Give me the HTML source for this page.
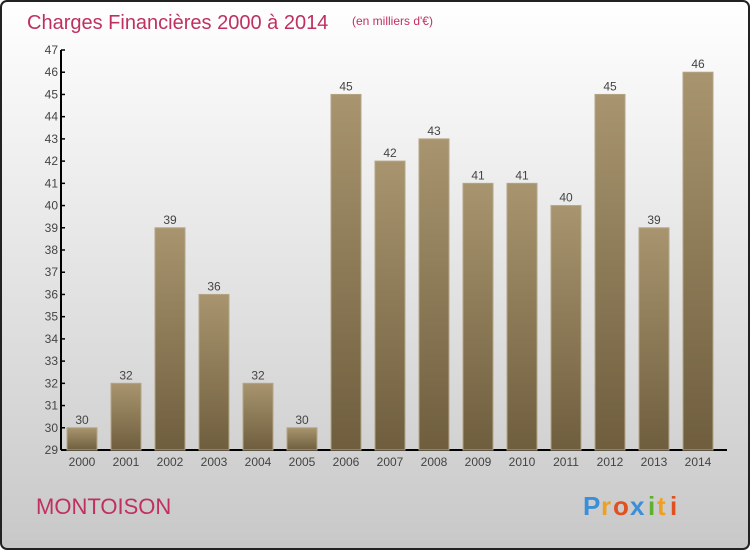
<!DOCTYPE html>
<html><head><meta charset="utf-8"><style>
html,body{margin:0;padding:0}
body{width:750px;height:550px;overflow:hidden;font-family:"Liberation Sans",sans-serif}
</style></head><body>
<svg width="750" height="550" viewBox="0 0 750 550" xmlns="http://www.w3.org/2000/svg">
<defs>
<linearGradient id="bg" x1="0" y1="0" x2="0" y2="1"><stop offset="0" stop-color="#ffffff"/><stop offset="1" stop-color="#c8c8c8"/></linearGradient>
<linearGradient id="bar" x1="0" y1="0" x2="0" y2="1"><stop offset="0" stop-color="#a8956f"/><stop offset="1" stop-color="#6f5e3e"/></linearGradient>
</defs>
<rect x="1" y="1" width="748" height="548" rx="6" fill="url(#bg)" stroke="#222" stroke-width="2"/>
<text x="27" y="29" font-size="20" fill="#c0305f">Charges Financières 2000 à 2014</text>
<text x="352" y="25" font-size="12" fill="#c0305f">(en milliers d'€)</text>
<text x="36" y="514" font-size="22" fill="#c0305f">MONTOISON</text>
<g font-size="26" font-weight="bold">
<text x="583" y="515" fill="#3a8fd8">P</text><text x="601" y="515" fill="#f0a020">r</text><text x="613" y="515" fill="#e05020">o</text><text x="630" y="515" fill="#3a8fd8">x</text><text x="648" y="515" fill="#60b030">i</text><text x="657" y="515" fill="#f0a020">t</text><text x="670" y="515" fill="#e05020">i</text>
</g>
<g id="axes"></g>
<g id="bars"></g>
</svg>
<script>
const years=["2000","2001","2002","2003","2004","2005","2006","2007","2008","2009","2010","2011","2012","2013","2014"];
const values=[30,32,39,36,32,30,45,42,43,41,41,40,45,39,46];
const yTicks=[29,30,31,32,33,34,35,36,37,38,39,40,41,42,43,44,45,46,47];
const NS="http://www.w3.org/2000/svg";
const yMin=29,yMax=47,plotTop=50,plotBot=450,left=61,right=727;
function y(v){return plotBot-(v-yMin)*(plotBot-plotTop)/(yMax-yMin);}
function xc(i){return 82+i*44;}
function mk(t,a,p){const e=document.createElementNS(NS,t);for(const k in a)e.setAttribute(k,a[k]);p.appendChild(e);return e;}
const ax=document.getElementById('axes'),bg=document.getElementById('bars');
let l=mk('line',{x1:left,y1:plotTop,x2:left,y2:plotBot,stroke:'#000','stroke-width':2},ax);


l=mk('line',{x1:left,y1:plotBot,x2:right,y2:plotBot,stroke:'#000','stroke-width':2},ax);


yTicks.forEach(v=>{
 const tk=mk('line',{x1:left,y1:y(v),x2:left+4,y2:y(v),stroke:'#000','stroke-width':1.5},ax);
 
 
 const t=mk('text',{x:left-3,y:y(v)+4,'font-size':12,fill:'#444','text-anchor':'end'},ax);
 t.textContent=v;
 
 
});
years.forEach((yr,i)=>{
 const r=mk('rect',{x:xc(i)-15,y:y(values[i]),width:30,height:plotBot-y(values[i]),fill:'url(#bar)',stroke:'#b5a585','stroke-width':1},bg);
 
 
 const vl=mk('text',{x:xc(i),y:y(values[i])-4,'font-size':12,fill:'#444','text-anchor':'middle'},bg);
 vl.textContent=values[i];
 
 
 const xl=mk('text',{x:xc(i),y:466,'font-size':12,fill:'#444','text-anchor':'middle'},bg);
 xl.textContent=yr;
 
 
});
</script>
</body></html>
